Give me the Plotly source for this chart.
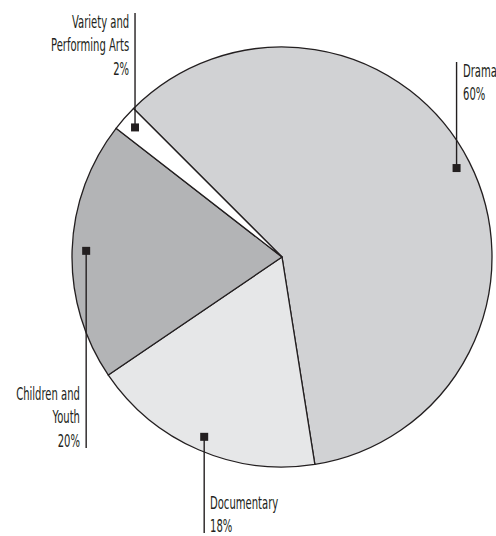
import math
import json
import plotly.graph_objects as go

# ---- data ----
categories = ["Drama", "Documentary", "Children and Youth", "Variety and Performing Arts"]
label_text = ["Drama", "Documentary", "Children and<br>Youth", "Variety and<br>Performing Arts"]
values = [60, 18, 20, 2]
colors = ["#d1d2d4", "#e6e7e8", "#b3b4b6", "#ffffff"]

W, H = 496, 536
CX, CY, R = 282, 257, 210
ROT = -45  # start angle (deg clockwise from 12 o'clock)
MARK_FRAC = 0.933
FONT = "DejaVu Sans Condensed, DejaVu Sans, sans-serif"
FONT_SIZE = 18
SCALE_X = 0.62

fig = go.Figure()
fig.add_trace(go.Pie(
    labels=categories, values=values, sort=False, direction="clockwise",
    rotation=ROT, textinfo="none", hoverinfo="label+percent",
    marker=dict(colors=colors, line=dict(color="#231f20", width=1.3)),
    domain=dict(x=[(CX - R) / W, (CX + R) / W],
                y=[(H - CY - R) / H, (H - CY + R) / H]),
    showlegend=False,
))

# label layout: side of the leader line for the text, line end y (px), vertical anchor, shift
label_cfg = [
    dict(side="right", end=62, valign="top", shift=0),      # Drama
    dict(side="right", end=533, valign="bottom", shift=-3), # Documentary
    dict(side="left", end=448, valign="bottom", shift=-1),  # Children
    dict(side="left", end=13, valign="top", shift=0),       # Variety
]

total = sum(values)
shapes, annotations = [], []
cum = 0
for name, txt, v, cfg in zip(categories, label_text, values, label_cfg):
    mid = math.radians(ROT + 360 * (cum + v / 2) / total)
    cum += v
    mx = CX + MARK_FRAC * R * math.sin(mid)
    my = CY - MARK_FRAC * R * math.cos(mid)
    shapes.append(dict(type="line", xref="x", yref="y", x0=mx, x1=mx, y0=my, y1=cfg["end"],
                       line=dict(color="#231f20", width=1.4), layer="above"))
    shapes.append(dict(type="rect", xref="x", yref="y", x0=mx - 4, x1=mx + 4, y0=my - 4, y1=my + 4,
                       fillcolor="#231f20", line=dict(width=0), layer="above"))
    pct = f"{round(100 * v / total)}%"
    top = cfg["valign"] == "top"
    annotations.append(dict(
        x=mx + (4 if cfg["side"] == "right" else -4),
        y=max(1, cfg["end"] - 4) if top else min(H - 1, cfg["end"] + 4),
        xref="x", yref="y", yshift=cfg["shift"],
        text=f"{txt}<br>{pct}", showarrow=False,
        xanchor="left" if cfg["side"] == "right" else "right",
        yanchor=cfg["valign"],
        align="left" if cfg["side"] == "right" else "right",
        font=dict(family=FONT, size=FONT_SIZE, color="#231f20"),
    ))

fig.update_layout(
    width=W, height=H, margin=dict(l=0, r=0, t=0, b=0),
    paper_bgcolor="white", plot_bgcolor="rgba(0,0,0,0)",
    xaxis=dict(range=[0, W], visible=False, domain=[0, 1], fixedrange=True),
    yaxis=dict(range=[H, 0], visible=False, domain=[0, 1], fixedrange=True),
    shapes=shapes, annotations=annotations,
)

sides = json.dumps([c["side"] for c in label_cfg])
post = """
(function(){
  var sides = %s, s = %f;
  function squeeze(){
    var gd = document.getElementById('{plot_id}');
    if(!gd) return;
    var anns = gd.querySelectorAll('g.annotation');
    anns.forEach(function(a, i){
      var t = a.querySelector('text.annotation-text');
      if(!t) return;
      t.removeAttribute('transform');
      var b = t.getBBox();
      var ax = sides[i] === 'right' ? b.x : b.x + b.width;
      t.setAttribute('transform', 'translate(' + ax + ',0) scale(' + s + ',1) translate(' + (-ax) + ',0)');
    });
  }
  squeeze();
  var gd = document.getElementById('{plot_id}');
  if(gd && gd.on){ gd.on('plotly_afterplot', squeeze); }
  setTimeout(squeeze, 50);
})();
""" % (sides, SCALE_X)

fig.write_html("out.html", post_script=post)
